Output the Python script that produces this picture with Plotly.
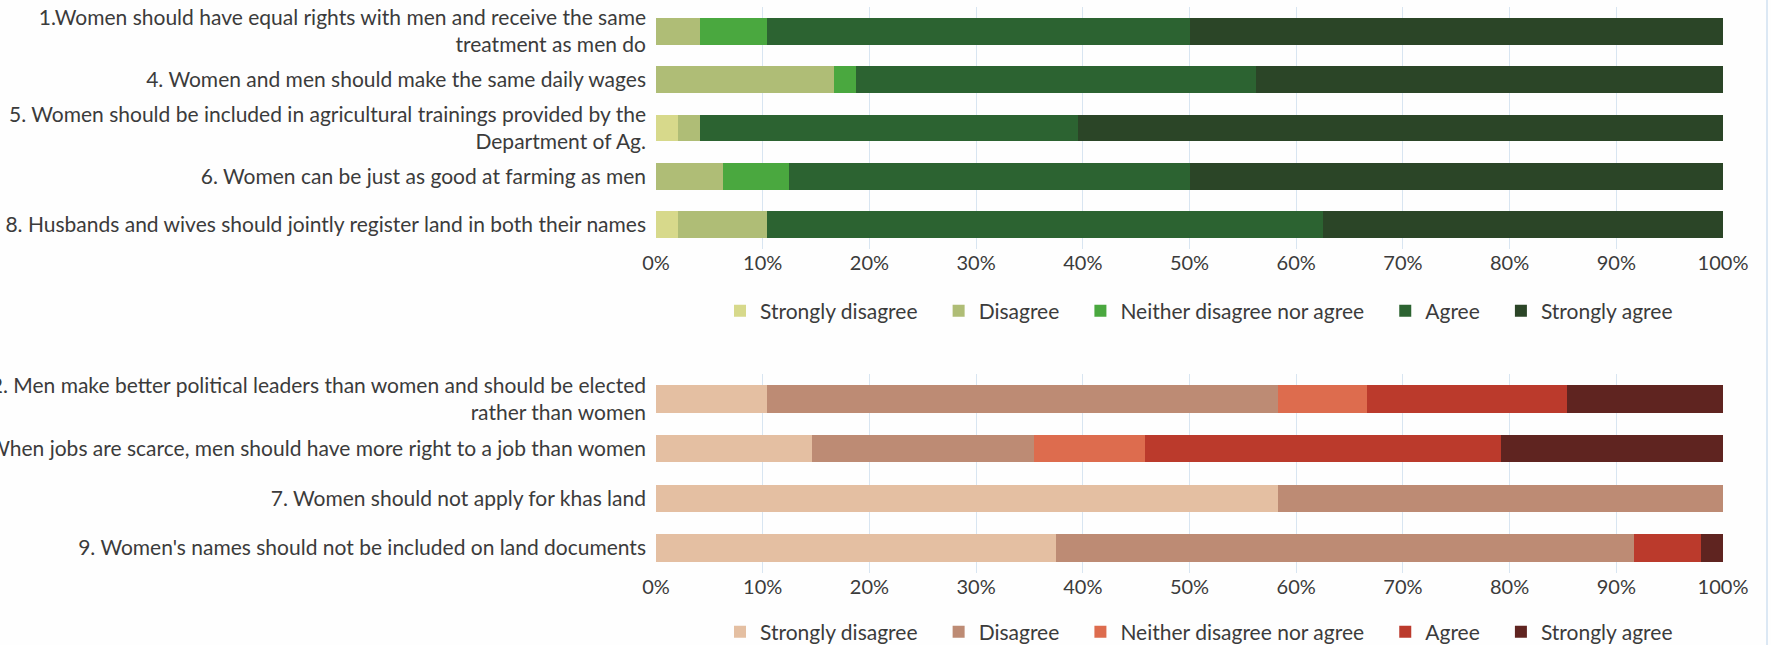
import plotly.graph_objects as go

# ---------------- data ----------------
levels = ["Strongly disagree", "Disagree", "Neither disagree nor agree", "Agree", "Strongly agree"]

top_items = [
    "1.Women should have equal rights with men and receive the same<br>treatment as men do",
    "4. Women and men should make the same daily wages",
    "5. Women should be included in agricultural trainings provided by the<br>Department of Ag.",
    "6. Women can be just as good at farming as men",
    "8. Husbands and wives should jointly register land in both their names",
]
top_strongly_disagree = [0.0, 0.0, 2.08, 0.0, 2.08]
top_disagree = [4.17, 16.67, 2.08, 6.25, 8.33]
top_neither = [6.25, 2.08, 0.0, 6.25, 0.0]
top_agree = [39.58, 37.5, 35.42, 37.5, 52.08]
top_strongly_agree = [50.0, 43.75, 60.42, 50.0, 37.5]

bottom_items = [
    "2. Men make better political leaders than women and should be elected<br>rather than women",
    "3. When jobs are scarce, men should have more right to a job than women",
    "7. Women should not apply for khas land",
    "9. Women's names should not be included on land documents",
]
bottom_strongly_disagree = [10.42, 14.58, 58.33, 37.5]
bottom_disagree = [47.92, 20.83, 41.67, 54.17]
bottom_neither = [8.33, 10.42, 0.0, 0.0]
bottom_agree = [18.75, 33.33, 0.0, 6.25]
bottom_strongly_agree = [14.58, 20.83, 0.0, 2.08]

green_colors = ["#d7d98b", "#afbd76", "#4aa83f", "#2c6331", "#2b4527"]
red_colors = ["#e4bfa2", "#bd8b74", "#dd6c4e", "#bb3a2c", "#5f2420"]

top_series = [top_strongly_disagree, top_disagree, top_neither, top_agree, top_strongly_agree]
bottom_series = [bottom_strongly_disagree, bottom_disagree, bottom_neither, bottom_agree, bottom_strongly_agree]

FONT = "Lato"
TXT = "#3b3b3b"
GRID = "#d8e5f1"
pad = "\u00a0" * 3

fig = go.Figure()
for i, lvl in enumerate(levels):
    name = lvl + (pad if i < len(levels) - 1 else "")
    fig.add_trace(go.Bar(
        y=top_items, x=top_series[i], orientation="h", name=name,
        marker=dict(color=green_colors[i], line=dict(width=0)),
        xaxis="x", yaxis="y", legend="legend", hoverinfo="x+name",
    ))
for i, lvl in enumerate(levels):
    name = lvl + (pad if i < len(levels) - 1 else "")
    fig.add_trace(go.Bar(
        y=bottom_items, x=bottom_series[i], orientation="h", name=name,
        marker=dict(color=red_colors[i], line=dict(width=0)),
        xaxis="x2", yaxis="y2", legend="legend2", hoverinfo="x+name",
    ))

W, H = 1771, 645
ml, mr, mt, mb = 656, 48, 7, 72
ph = H - mt - mb
top_dom = [(H - mb - 249) / ph, 1.0]
bot_dom = [0.0, (H - mb - 374) / ph]

xcommon = dict(range=[0, 100], dtick=10, ticksuffix="%", showgrid=True, gridcolor=GRID,
               gridwidth=1, zeroline=False, showline=False, ticks="",
               tickfont=dict(family=FONT, size=20, color=TXT), fixedrange=True)
ycommon = dict(autorange="reversed", showgrid=False, showline=False, ticks="",
               tickfont=dict(family=FONT, size=21, color=TXT), ticklabelstandoff=9,
               fixedrange=True)

legend_common = dict(orientation="h", font=dict(family=FONT, size=21, color=TXT),
                     bgcolor="rgba(0,0,0,0)", traceorder="normal", xanchor="left",
                     yanchor="middle", itemclick=False, itemdoubleclick=False)

fig.update_layout(
    width=W, height=H,
    margin=dict(l=ml, r=mr, t=mt, b=mb, autoexpand=False),
    paper_bgcolor="#fefefe", plot_bgcolor="#fefefe",
    barmode="stack", bargap=0.45,
    showlegend=True,
    xaxis=dict(anchor="y", domain=[0, 1], **xcommon),
    yaxis=dict(domain=top_dom, anchor="x", **ycommon),
    xaxis2=dict(anchor="y2", domain=[0, 1], **xcommon),
    yaxis2=dict(domain=bot_dom, anchor="x2", **ycommon),
    legend=dict(x=(720 - ml) / 1067, y=(H - mb - 311) / ph, **legend_common),
    legend2=dict(x=(720 - ml) / 1067, y=(H - mb - 632) / ph, **legend_common),
    shapes=[dict(type="line", xref="paper", yref="paper",
                 x0=(1767 - ml) / 1067, x1=(1767 - ml) / 1067, y0=-0.2, y1=1.1,
                 line=dict(color="#dce8f4", width=2))],
)

fig.write_html("out.html")
